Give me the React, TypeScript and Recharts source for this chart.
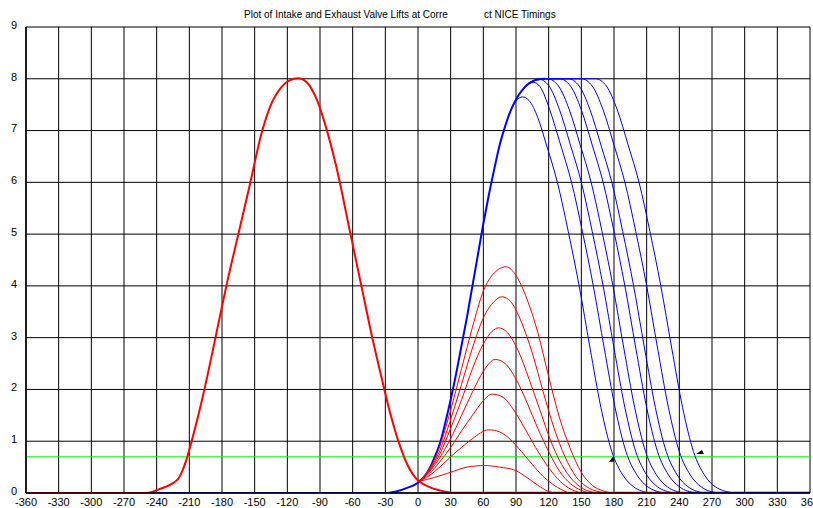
import React from 'react';
import { ComposedChart, Line, XAxis, YAxis, CartesianGrid, Scatter } from 'recharts';

const xTicks = [-360, -330, -300, -270, -240, -210, -180, -150, -120, -90, -60, -30, 0, 30, 60, 90, 120, 150, 180, 210, 240, 270, 300, 330, 360];
const yTicks = [0, 1, 2, 3, 4, 5, 6, 7, 8, 9];

const titleLeft = 'Plot of Intake and Exhaust Valve Lifts at Corre';
const titleRight = 'ct NICE Timings';

// Exhaust valve lift (thick red)
const exhaust = [
  { x: -360, y: 0 }, { x: -249, y: 0 }, { x: -237, y: 0.08 }, { x: -225, y: 0.19 }, { x: -220, y: 0.28 },
  { x: -217, y: 0.4 }, { x: -213, y: 0.62 }, { x: -206, y: 1.15 }, { x: -200, y: 1.65 }, { x: -193, y: 2.3 },
  { x: -186, y: 3.0 }, { x: -176, y: 4.0 }, { x: -165, y: 5.0 }, { x: -155, y: 5.9 }, { x: -143, y: 7.0 },
  { x: -135, y: 7.5 }, { x: -125, y: 7.85 }, { x: -118, y: 7.97 }, { x: -110, y: 8.01 }, { x: -102, y: 7.93 },
  { x: -92, y: 7.55 }, { x: -85, y: 7.1 }, { x: -75, y: 6.3 }, { x: -62, y: 5.0 }, { x: -52, y: 4.0 },
  { x: -42, y: 3.0 }, { x: -36, y: 2.45 }, { x: -30, y: 1.92 }, { x: -25, y: 1.5 }, { x: -20, y: 1.13 },
  { x: -15, y: 0.82 }, { x: -10, y: 0.56 }, { x: -5, y: 0.37 }, { x: 0, y: 0.24 }, { x: 10, y: 0.12 },
  { x: 20, y: 0.05 }, { x: 31, y: 0 },
];
const redBase = [{ x: 25, y: 0 }, { x: 247, y: 0 }];

// Intake rising edge (shared, thick blue)
const intakeRise = [
  { x: -245, y: 0 }, { x: -30, y: 0 }, { x: -25, y: 0.01 }, { x: -20, y: 0.03 }, { x: -10, y: 0.1 },
  { x: 0, y: 0.2 }, { x: 10, y: 0.45 }, { x: 15, y: 0.68 }, { x: 20, y: 0.95 }, { x: 25, y: 1.35 },
  { x: 30, y: 1.8 }, { x: 35, y: 2.3 }, { x: 40, y: 2.85 }, { x: 45, y: 3.4 }, { x: 50, y: 4.0 },
  { x: 55, y: 4.6 }, { x: 60, y: 5.2 }, { x: 65, y: 5.75 }, { x: 70, y: 6.25 }, { x: 75, y: 6.72 },
  { x: 80, y: 7.08 }, { x: 85, y: 7.38 }, { x: 90, y: 7.6 }, { x: 95, y: 7.76 }, { x: 100, y: 7.88 },
  { x: 105, y: 7.95 }, { x: 110, y: 7.99 }, { x: 117, y: 8.0 },
];
const blueBase = [{ x: 247, y: 0 }, { x: 360, y: 0 }];

// Intake closing curves (thin blue)
const intake1 = [
  { x: 85, y: 7.38 }, { x: 90, y: 7.57 }, { x: 96, y: 7.65 }, { x: 102, y: 7.58 }, { x: 110, y: 7.25 },
  { x: 118, y: 6.72 }, { x: 128, y: 6.0 }, { x: 138, y: 5.05 }, { x: 148, y: 4.0 }, { x: 158, y: 2.8 },
  { x: 168, y: 1.65 }, { x: 178, y: 0.8 }, { x: 188, y: 0.35 }, { x: 198, y: 0.12 }, { x: 213, y: 0 },
];
const intake2 = [
  { x: 95, y: 7.76 }, { x: 100, y: 7.87 }, { x: 106, y: 7.93 }, { x: 112, y: 7.85 }, { x: 121, y: 7.4 },
  { x: 131, y: 6.72 }, { x: 141, y: 6.0 }, { x: 151, y: 5.05 }, { x: 161, y: 4.0 }, { x: 171, y: 2.8 },
  { x: 181, y: 1.65 }, { x: 191, y: 0.8 }, { x: 201, y: 0.35 }, { x: 211, y: 0.12 }, { x: 226, y: 0 },
];
const intake3 = [
  { x: 100, y: 7.88 }, { x: 111, y: 7.99 }, { x: 120, y: 7.87 }, { x: 130, y: 7.4 }, { x: 140, y: 6.72 },
  { x: 150, y: 6.0 }, { x: 160, y: 5.05 }, { x: 170, y: 4.0 }, { x: 180, y: 2.8 }, { x: 190, y: 1.65 },
  { x: 200, y: 0.8 }, { x: 210, y: 0.35 }, { x: 220, y: 0.12 }, { x: 235, y: 0 },
];
const intake4 = [
  { x: 105, y: 7.95 }, { x: 119, y: 8.0 }, { x: 129, y: 7.86 }, { x: 139, y: 7.4 }, { x: 149, y: 6.72 },
  { x: 159, y: 6.0 }, { x: 169, y: 5.05 }, { x: 179, y: 4.0 }, { x: 189, y: 2.8 }, { x: 199, y: 1.65 },
  { x: 209, y: 0.8 }, { x: 219, y: 0.35 }, { x: 229, y: 0.12 }, { x: 244, y: 0 },
];
const intake5 = [
  { x: 117, y: 8.0 }, { x: 130, y: 8.0 }, { x: 140, y: 7.86 }, { x: 150, y: 7.4 }, { x: 160, y: 6.72 },
  { x: 170, y: 6.0 }, { x: 180, y: 5.05 }, { x: 190, y: 4.0 }, { x: 200, y: 2.8 }, { x: 210, y: 1.65 },
  { x: 220, y: 0.8 }, { x: 230, y: 0.35 }, { x: 240, y: 0.12 }, { x: 255, y: 0 },
];
const intake6 = [
  { x: 117, y: 8.0 }, { x: 138, y: 8.0 }, { x: 148, y: 7.86 }, { x: 158, y: 7.4 }, { x: 168, y: 6.72 },
  { x: 178, y: 6.0 }, { x: 188, y: 5.05 }, { x: 198, y: 4.0 }, { x: 208, y: 2.8 }, { x: 218, y: 1.65 },
  { x: 228, y: 0.8 }, { x: 238, y: 0.35 }, { x: 248, y: 0.12 }, { x: 263, y: 0 },
];
const intake7 = [
  { x: 117, y: 8.0 }, { x: 150, y: 8.0 }, { x: 160, y: 7.86 }, { x: 170, y: 7.4 }, { x: 180, y: 6.72 },
  { x: 190, y: 6.0 }, { x: 200, y: 5.05 }, { x: 210, y: 4.0 }, { x: 220, y: 2.8 }, { x: 230, y: 1.65 },
  { x: 240, y: 0.8 }, { x: 250, y: 0.35 }, { x: 260, y: 0.12 }, { x: 275, y: 0 },
];
const intake8 = [
  { x: 117, y: 8.0 }, { x: 163, y: 8.0 }, { x: 173, y: 7.86 }, { x: 183, y: 7.4 }, { x: 193, y: 6.72 },
  { x: 203, y: 6.0 }, { x: 213, y: 5.05 }, { x: 223, y: 4.0 }, { x: 233, y: 2.8 }, { x: 243, y: 1.65 },
  { x: 253, y: 0.8 }, { x: 263, y: 0.35 }, { x: 273, y: 0.12 }, { x: 290, y: 0 },
];

// Reduced lift curves (thin red)
const lift1 = [
  { x: 0, y: 0.22 }, { x: 10, y: 0.45 }, { x: 20, y: 0.9 }, { x: 30, y: 1.6 }, { x: 40, y: 2.4 },
  { x: 50, y: 3.2 }, { x: 60, y: 3.9 }, { x: 70, y: 4.25 }, { x: 81, y: 4.37 }, { x: 90, y: 4.2 },
  { x: 100, y: 3.75 }, { x: 110, y: 3.1 }, { x: 120, y: 2.25 }, { x: 130, y: 1.45 }, { x: 140, y: 0.85 },
  { x: 150, y: 0.4 }, { x: 160, y: 0.15 }, { x: 170, y: 0.04 }, { x: 178, y: 0 },
];
const lift2 = [
  { x: 0, y: 0.22 }, { x: 10, y: 0.43 }, { x: 20, y: 0.82 }, { x: 30, y: 1.42 }, { x: 40, y: 2.1 },
  { x: 50, y: 2.8 }, { x: 60, y: 3.38 }, { x: 70, y: 3.7 }, { x: 77, y: 3.79 }, { x: 85, y: 3.7 },
  { x: 95, y: 3.3 }, { x: 105, y: 2.7 }, { x: 115, y: 1.95 }, { x: 125, y: 1.25 }, { x: 135, y: 0.7 },
  { x: 145, y: 0.32 }, { x: 155, y: 0.12 }, { x: 165, y: 0.03 }, { x: 172, y: 0 },
];
const lift3 = [
  { x: 0, y: 0.22 }, { x: 10, y: 0.42 }, { x: 20, y: 0.75 }, { x: 30, y: 1.25 }, { x: 40, y: 1.8 },
  { x: 50, y: 2.4 }, { x: 60, y: 2.88 }, { x: 68, y: 3.12 }, { x: 74, y: 3.19 }, { x: 82, y: 3.1 },
  { x: 92, y: 2.75 }, { x: 102, y: 2.2 }, { x: 112, y: 1.6 }, { x: 122, y: 1.0 }, { x: 132, y: 0.55 },
  { x: 142, y: 0.25 }, { x: 152, y: 0.08 }, { x: 165, y: 0 },
];
const lift4 = [
  { x: 0, y: 0.22 }, { x: 10, y: 0.4 }, { x: 20, y: 0.68 }, { x: 30, y: 1.05 }, { x: 40, y: 1.5 },
  { x: 50, y: 1.95 }, { x: 60, y: 2.35 }, { x: 71, y: 2.58 }, { x: 80, y: 2.5 }, { x: 90, y: 2.2 },
  { x: 100, y: 1.75 }, { x: 110, y: 1.25 }, { x: 120, y: 0.8 }, { x: 130, y: 0.42 }, { x: 140, y: 0.18 },
  { x: 150, y: 0.05 }, { x: 158, y: 0 },
];
const lift5 = [
  { x: 0, y: 0.22 }, { x: 10, y: 0.37 }, { x: 20, y: 0.6 }, { x: 30, y: 0.88 }, { x: 40, y: 1.2 },
  { x: 50, y: 1.5 }, { x: 60, y: 1.78 }, { x: 68, y: 1.91 }, { x: 78, y: 1.85 }, { x: 88, y: 1.6 },
  { x: 98, y: 1.25 }, { x: 108, y: 0.88 }, { x: 118, y: 0.55 }, { x: 128, y: 0.28 }, { x: 138, y: 0.1 },
  { x: 150, y: 0 },
];
const lift6 = [
  { x: 0, y: 0.22 }, { x: 10, y: 0.33 }, { x: 20, y: 0.5 }, { x: 30, y: 0.7 }, { x: 40, y: 0.88 },
  { x: 50, y: 1.05 }, { x: 65, y: 1.22 }, { x: 75, y: 1.18 }, { x: 85, y: 1.03 }, { x: 95, y: 0.8 },
  { x: 105, y: 0.55 }, { x: 115, y: 0.32 }, { x: 125, y: 0.15 }, { x: 138, y: 0 },
];
const lift7 = [
  { x: 0, y: 0.22 }, { x: 15, y: 0.3 }, { x: 30, y: 0.4 }, { x: 45, y: 0.5 }, { x: 61, y: 0.53 },
  { x: 75, y: 0.5 }, { x: 90, y: 0.43 }, { x: 100, y: 0.3 }, { x: 110, y: 0.15 }, { x: 120, y: 0.03 },
  { x: 125, y: 0 },
];

const thresholdLine = [{ x: -360, y: 0.7 }, { x: 360, y: 0.7 }];
const markers = [{ x: 178, y: 0.66 }, { x: 259, y: 0.79 }];

const intakeCurves = [intake1, intake2, intake3, intake4, intake5, intake6, intake7, intake8];
const liftCurves = [lift1, lift2, lift3, lift4, lift5, lift6, lift7];

const FONT = '"Liberation Sans", Arial, Helvetica, sans-serif';

const MarkerShape = (props: any) => {
  const { cx, cy, index } = props;
  if (cx == null || cy == null) return null;
  const d = index === 0
    ? `M${cx - 3},${cy + 3} L${cx + 2},${cy - 3} L${cx + 2},${cy + 3} Z`
    : `M${cx - 4},${cy + 2} L${cx + 2},${cy - 2} L${cx + 4},${cy + 2} Z`;
  return <path d={d} fill="#000" stroke="none" />;
};

export default function App() {
  return (
    <div style={{ position: 'absolute', left: 0, top: 0, width: 813, height: 508, background: '#fff', overflow: 'hidden' }}>
      <div style={{ position: 'absolute', left: 244, top: 9, fontFamily: FONT, fontSize: 10, color: '#000', whiteSpace: 'pre' }}>{titleLeft}</div>
      <div style={{ position: 'absolute', left: 484, top: 9, fontFamily: FONT, fontSize: 10, color: '#000', whiteSpace: 'pre' }}>{titleRight}</div>
      <ComposedChart width={813} height={508} margin={{ top: 27, right: 3, bottom: 0, left: 6 }}>
        <CartesianGrid stroke="#000" strokeWidth={1} />
        <XAxis
          dataKey="x"
          type="number"
          domain={[-360, 360]}
          ticks={xTicks}
          interval={0}
          allowDataOverflow
          tickSize={0}
          tickMargin={5}
          height={15}
          axisLine={{ stroke: '#000', strokeWidth: 1.5 }}
          tick={{ fontSize: 11, fill: '#000', fontFamily: FONT }}
        />
        <YAxis
          type="number"
          domain={[0, 9]}
          ticks={yTicks}
          interval={0}
          allowDataOverflow
          tickSize={0}
          tickMargin={9}
          width={20}
          axisLine={{ stroke: '#000', strokeWidth: 1.5 }}
          tick={{ fontSize: 11, fill: '#000', fontFamily: FONT, dy: -2 }}
        />
        <Line data={thresholdLine} dataKey="y" type="linear" stroke="#00ff00" strokeWidth={1} dot={false} activeDot={false} isAnimationActive={false} />
        {intakeCurves.map((c, i) => (
          <Line key={'in' + i} data={c} dataKey="y" type="monotone" stroke="#0000ff" strokeWidth={1} dot={false} activeDot={false} isAnimationActive={false} />
        ))}
        <Line data={intakeRise} dataKey="y" type="monotone" stroke="#0000ff" strokeWidth={2} dot={false} activeDot={false} isAnimationActive={false} />
        <Line data={blueBase} dataKey="y" type="linear" stroke="#0000ff" strokeWidth={2.5} dot={false} activeDot={false} isAnimationActive={false} />
        {liftCurves.map((c, i) => (
          <Line key={'lf' + i} data={c} dataKey="y" type="monotone" stroke="#ff0000" strokeWidth={1} dot={false} activeDot={false} isAnimationActive={false} />
        ))}
        <Line data={exhaust} dataKey="y" type="monotone" stroke="#ff0000" strokeWidth={2} dot={false} activeDot={false} isAnimationActive={false} />
        <Line data={redBase} dataKey="y" type="linear" stroke="#ff0000" strokeWidth={2.5} dot={false} activeDot={false} isAnimationActive={false} />
        <Scatter data={markers} dataKey="y" shape={<MarkerShape />} isAnimationActive={false} />
      </ComposedChart>
    </div>
  );
}
